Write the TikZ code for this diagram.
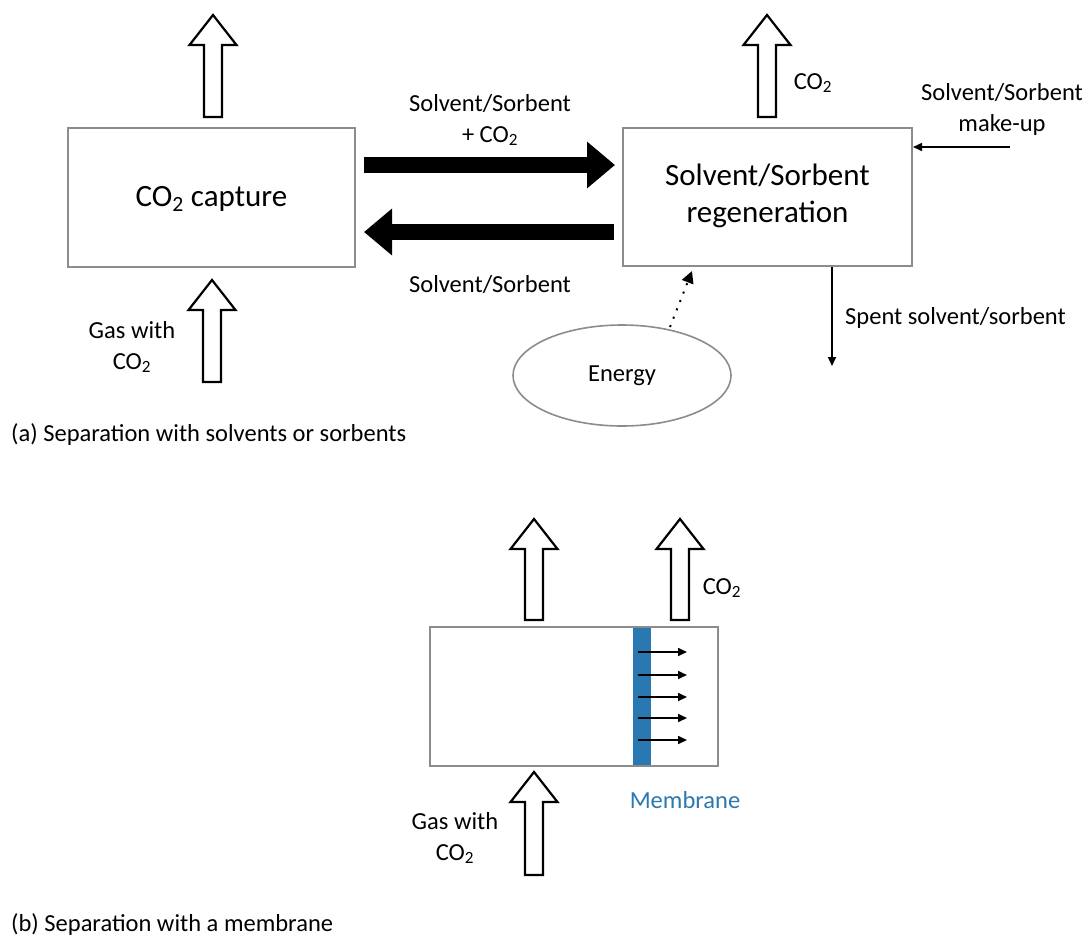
\documentclass[tikz,border=0pt]{standalone}
\usepackage{fontspec}
\setmainfont{Carlito}
\usetikzlibrary{arrows.meta,shapes.geometric}
\definecolor{boxgray}{RGB}{140,140,140}
\definecolor{membblue}{RGB}{42,120,178}
\newcommand\hollowup[3]{\draw[hollow] (#1-9,#3) -- (#1-9,#2+30) -- (#1-23.5,#2+30) -- (#1,#2) -- (#1+23.5,#2+30) -- (#1+9,#2+30) -- (#1+9,#3) -- cycle;}
\begin{document}
\begin{tikzpicture}[x=1pt,y=-1pt,
  procbox/.style={draw=boxgray,line width=2pt,fill=white,inner sep=0pt},
  hollow/.style={draw=black,line width=2.2pt,fill=white,line join=miter},
  bigarrow/.style={line width=16pt,-{Triangle[length=28pt,width=45pt]}},
  thinarrow/.style={line width=1.6pt,-{Triangle[length=9pt,width=8pt]}},
  lbl/.style={font=\fontsize{24.5}{31}\selectfont,align=center,inner sep=0pt},
  boxtxt/.style={font=\fontsize{31}{37}\selectfont,align=center},
  captxt/.style={font=\fontsize{24.5}{28}\selectfont,anchor=west,inner sep=0pt}]
\useasboundingbox (0,0) rectangle (1089,937);

% ---------- (a) ----------
\node[procbox,minimum width=287pt,minimum height=139pt] (capture) at (211.5,197.5) {};
\node[boxtxt] (capturetxt) at (211.5,199) {CO\textsubscript{2} capture};
\node[procbox,minimum width=289pt,minimum height=138pt] (regen) at (767.5,197) {};
\node[boxtxt] (regentxt) at (767.5,196) {Solvent/Sorbent\\regeneration};

\hollowup{213}{15}{117}
\hollowup{212}{280}{382}
\hollowup{767}{15}{117}

\node[lbl] (gaslbl) at (132,347) {Gas with\\CO\textsubscript{2}};
\node[lbl] (co2lbl) at (813,83) {CO\textsubscript{2}};

\draw[bigarrow] ([xshift=8pt,yshift=32.5pt]capture.east) -- ([xshift=-7pt,yshift=32pt]regen.west);
\draw[bigarrow] ([xshift=-8pt,yshift=-35pt]regen.west) -- ([xshift=8pt,yshift=-34.5pt]capture.east);
\node[lbl] (toplbl) at (490,120) {Solvent/Sorbent\\+ CO\textsubscript{2}};
\node[lbl] (botlbl) at (490,285) {Solvent/Sorbent};

\node[lbl] (makelbl) at (1002,109) {Solvent/Sorbent\\make-up};
\coordinate (mk) at (1010,147);
\draw[thinarrow] (mk) -- (regen.east |- mk);

\coordinate (spentend) at (832,366);
\draw[thinarrow] (regen.south -| spentend) -- (spentend);
\node[lbl,anchor=west] (spentlbl) at (845,318) {Spent solvent/sorbent};

\node[draw=boxgray,line width=1.6pt,ellipse,minimum width=218pt,minimum height=101pt,font=\fontsize{24.5}{28}\selectfont] (energy) at (622,375.5) {Energy};
\coordinate (enstart) at (670,327);
\coordinate (entip) at (692,271);
\draw[line width=2pt,dash pattern=on 2pt off 7pt,-{Triangle[length=12pt,width=12pt]}] (enstart) -- (entip);

\node[captxt] (capa) at (11,435) {(a) Separation with solvents or sorbents};

% ---------- (b) ----------
\node[procbox,minimum width=288pt,minimum height=139pt] (membox) at (574,696.5) {};
\fill[membblue] (633,628) rectangle (651,765);
\foreach \yy [count=\i] in {652,675,697,718,740}{
  \coordinate (ms\i) at (638,\yy);
  \coordinate (me\i) at (687,\yy);
  \draw[line width=1.6pt,-{Triangle[length=9pt,width=8pt]}] (ms\i) -- (me\i);
}
\hollowup{534}{519}{620}
\hollowup{680}{519}{620}
\hollowup{534}{772}{875}
\node[lbl] (co2b) at (722,588) {CO\textsubscript{2}};
\node[lbl] (gasb) at (455,838) {Gas with\\CO\textsubscript{2}};
\node[lbl,text=membblue] (membl) at (685,800) {Membrane};
\node[captxt] (capb) at (11,924) {(b) Separation with a membrane};
\end{tikzpicture}
\end{document}
